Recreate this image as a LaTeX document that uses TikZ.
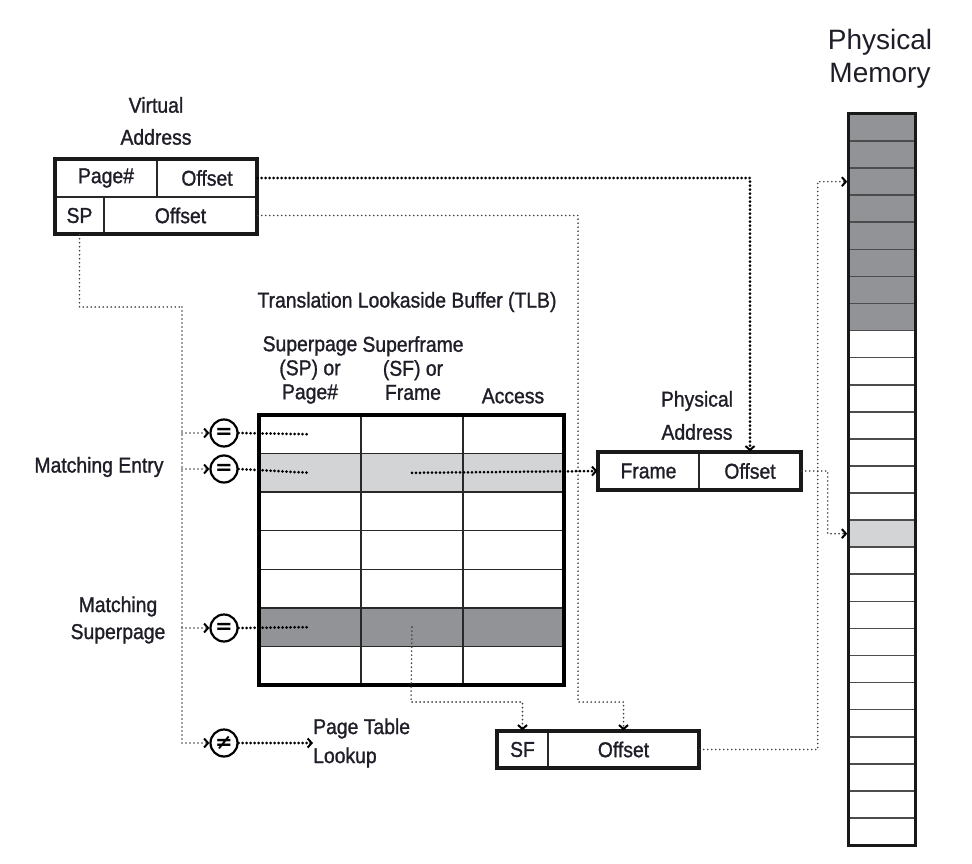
\documentclass[tikz,border=0pt]{standalone}
\usepackage{fontspec}
\setmainfont[FakeStretch=0.9,FakeBold=1.2]{Liberation Sans}
\newfontfamily\plainfont{Liberation Sans}
\newfontfamily\symfont{DejaVu Sans}
\usetikzlibrary{arrows.meta,calc}
\definecolor{txt}{RGB}{30,30,40}
\definecolor{darkfill}{RGB}{146,147,150}
\definecolor{lightfill}{RGB}{211,212,214}
\definecolor{cellline}{RGB}{40,40,40}
\tikzset{
  lbl/.style={font=\fontsize{21.5}{25}\selectfont, text=txt, inner sep=0pt, align=center},
  cell/.style={draw=cellline, line width=1.3pt, minimum height=#1, inner sep=0pt, font=\fontsize{21.5}{25}\selectfont, text=txt},
  thickbox/.style={draw=black!90, line width=3.5pt},
  eqc/.style={circle, draw=black, line width=2.2pt, minimum size=27pt, inner sep=0pt, font=\symfont\bfseries\fontsize{21}{21}\selectfont},
  heavy/.style={line width=3pt, line cap=round, dash pattern=on 0pt off 4pt, draw=black},
  light/.style={line width=1.8pt, line cap=round, dash pattern=on 0pt off 4pt, draw=black!75},
  tip/.style={-{Straight Barb[length=4pt,width=9pt,line width=2pt,black]}},
}
\begin{document}
\begin{tikzpicture}[x=1pt,y=-1pt]
\useasboundingbox (0,0) rectangle (972,864);
% ---------- Virtual address ----------
\node[lbl] (vlab) at (156,105) {Virtual};
\node[lbl] (alab) at (156,137) {Address};
\node[cell=38pt, minimum width=102pt] (vpage) at (106,178) {Page\#};
\node[cell=38pt, minimum width=100pt] (voff1) at (207,178) {Offset};
\node[cell=37pt, minimum width=49pt] (vsp) at (79.5,215.5) {SP};
\node[cell=37pt, minimum width=153pt] (voff2) at (180.5,215.5) {Offset};
\draw[thickbox] (55,159) rectangle (257,234);
% ---------- TLB ----------
\node[lbl] (tlbt) at (407,302) {Translation Lookaside Buffer (TLB)};
\node[lbl, anchor=north] (h1) at (310,336) {Superpage\\[-1pt](SP) or\\[-1pt]Page\#};
\node[lbl, anchor=north] (h2) at (413,336) {Superframe\\[-1pt](SF) or\\[-1pt]Frame};
\node[lbl] (h3) at (513,396) {Access};
\foreach \r in {1,...,7}{
  \foreach \c/\xc/\w in {1/310/102,2/412/102,3/513.5/101}{
    \pgfmathsetmacro{\yc}{415+(\r-0.5)*38.57}
    \ifnum\r=2 \def\fc{lightfill}\else\ifnum\r=6 \def\fc{darkfill}\else\def\fc{white}\fi\fi
    \node[cell=38.57pt, minimum width=\w pt, fill=\fc] (t-\r-\c) at (\xc,\yc) {};
  }
}
\draw[line width=4pt, black] (259,415) rectangle (564,685);
% ---------- Physical memory ----------
\node[lbl, font=\plainfont\fontsize{28}{32}\selectfont] (pm) at (880,59) {Physical\\[1pt]Memory};
\foreach \r in {1,...,27}{
  \pgfmathsetmacro{\yc}{114+(\r-0.5)*27.074}
  \ifnum\r<9 \def\fc{darkfill}\else\ifnum\r=16 \def\fc{lightfill}\else\def\fc{white}\fi\fi
  \node[draw=black!70, line width=1.6pt, fill=\fc, minimum width=67pt, minimum height=27.074pt, inner sep=0pt] (m-\r) at (881.5,\yc) {};
}
\draw[line width=3pt, black!90] (848,114) rectangle (915,845);
% ---------- Physical address ----------
\node[lbl] (palab) at (697,401) {Physical};
\node[lbl] (palab2) at (697,432) {Address};
\node[cell=38pt, minimum width=101pt] (pframe) at (648.5,471) {Frame};
\node[cell=38pt, minimum width=102pt] (poff) at (750,471) {Offset};
\draw[thickbox] (598,452) rectangle (801,490);
% ---------- SF box ----------
\node[cell=37pt, minimum width=51pt] (sf) at (522.5,749.5) {SF};
\node[cell=37pt, minimum width=151pt] (sfoff) at (623.5,749.5) {Offset};
\draw[thickbox] (497,731) rectangle (699,768);
% ---------- comparators ----------
\node[eqc] (e1) at (224,433) {=};
\node[eqc] (e2) at (224,469) {=};
\node[eqc] (e3) at (224,628) {=};
\node[eqc] (ne) at (224,743) {≠};
\node[lbl] (me) at (99,467) {Matching Entry};
\node[lbl] (ms) at (118,620) {Matching\\[2pt]Superpage};
\node[lbl, align=left, anchor=west] (ptl) at (313,743) {Page Table\\[4pt]Lookup};
% ---------- connectors ----------
\coordinate (jv) at (182,307);
\draw[light] (vsp.south) |- (jv);
\draw[light,tip] (jv) |- (ne.west);
\draw[light,tip] (jv |- e1) -- (e1.west);
\draw[light,tip] (jv |- e2) -- (e2.west);
\draw[light,tip] (jv |- e3) -- (e3.west);
\draw[heavy] (e1.east) -- (t-1-1.center);
\draw[heavy] (e2.east) -- (t-2-1.center);
\draw[heavy] (e3.east) -- (t-6-1.center);
\draw[heavy,tip] (ne.east) -- (ptl.west);
\draw[heavy,tip] (t-2-2.center) -- (pframe.west);
\draw[heavy,tip] (voff1.east) -| (poff.north);
\coordinate (j1) at (578,702);
\draw[light,tip] (voff2.east) -| (j1) -| (sfoff.north);
\coordinate (j2) at (411,702);
\draw[light,tip] (t-6-2.center) -- (j2) -| (sf.north);
\draw[light,tip] (sfoff.east) -- ++(118,0) |- (m-3.west);
\draw[light,tip] (poff.east) -- ++(26,0) |- (m-16.west);
\end{tikzpicture}
\end{document}
